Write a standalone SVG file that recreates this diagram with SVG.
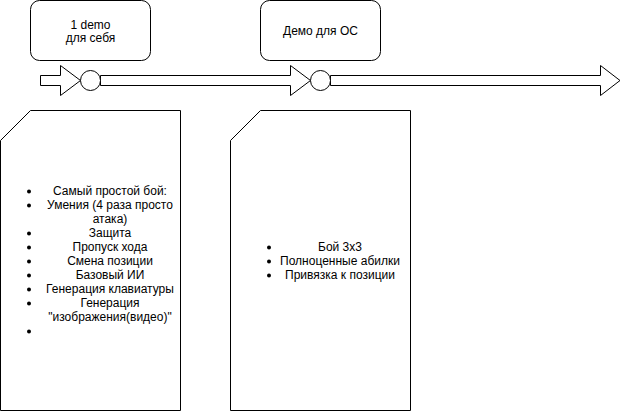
<svg xmlns="http://www.w3.org/2000/svg" width="621" height="411" viewBox="0 0 621 411">
<style>
.shape{fill:#ffffff;stroke:#000000;stroke-width:1}
.t{font-family:"Liberation Sans",Arial,Helvetica,sans-serif;font-size:12px;fill:#000000;text-anchor:middle}
.b{fill:#000000}
</style>
<rect width="621" height="411" fill="#ffffff"/>
<g id="connectors">
<polygon class="shape" points="40.5,75.5 60.5,75.5 60.5,65.5 80.5,80.5 60.5,95.5 60.5,85.5 40.5,85.5"/>
<polygon class="shape" points="100.5,75.5 290.5,75.5 290.5,65.5 310.5,80.5 290.5,95.5 290.5,85.5 100.5,85.5"/>
<polygon class="shape" points="330.5,75.5 600.5,75.5 600.5,65.5 620,80.5 600.5,95.5 600.5,85.5 330.5,85.5"/>
</g>
<g id="milestone1"><circle class="shape" cx="90.5" cy="80.5" r="10"/></g>
<g id="milestone2"><circle class="shape" cx="320.5" cy="80.5" r="10"/></g>
<g id="demo1">
<rect class="shape" x="30.5" y="0.5" width="120" height="60" rx="9" ry="9"/>
<text class="t" x="90.5" y="28.5">1 demo</text>
<text class="t" x="90.5" y="41.5">для себя</text>
</g>
<g id="demo2">
<rect class="shape" x="260.5" y="0.5" width="120" height="60" rx="9" ry="9"/>
<text class="t" x="320.5" y="34.5">Демо для ОС</text>
</g>
<g id="card1">
<path class="shape" d="M30.5,110.5 H180.5 V410.5 H0.5 V140.5 Z"/>
<circle class="b" cx="29" cy="191.5" r="2"/>
<circle class="b" cx="29" cy="205.5" r="2"/>
<circle class="b" cx="29" cy="233.5" r="2"/>
<circle class="b" cx="29" cy="247.5" r="2"/>
<circle class="b" cx="29" cy="261.5" r="2"/>
<circle class="b" cx="29" cy="275.5" r="2"/>
<circle class="b" cx="29" cy="289.5" r="2"/>
<circle class="b" cx="29" cy="303.5" r="2"/>
<circle class="b" cx="29" cy="331.5" r="2"/>
<text class="t" x="110" y="195">Самый простой бой:</text>
<text class="t" x="110" y="209">Умения (4 раза просто</text>
<text class="t" x="110" y="223">атака)</text>
<text class="t" x="110" y="237">Защита</text>
<text class="t" x="110" y="251">Пропуск хода</text>
<text class="t" x="110" y="265">Смена позиции</text>
<text class="t" x="110" y="279">Базовый ИИ</text>
<text class="t" x="110" y="293">Генерация клавиатуры</text>
<text class="t" x="110" y="307">Генерация</text>
<text class="t" x="110" y="321">"изображения(видео)"</text>
</g>
<g id="card2">
<path class="shape" d="M260.5,110.5 H410.5 V410.5 H230.5 V140.5 Z"/>
<circle class="b" cx="269" cy="247.5" r="2"/>
<circle class="b" cx="269" cy="261.5" r="2"/>
<circle class="b" cx="269" cy="275.5" r="2"/>
<text class="t" x="340" y="251">Бой 3x3</text>
<text class="t" x="340" y="265">Полноценные абилки</text>
<text class="t" x="340" y="279">Привязка к позиции</text>
</g>
</svg>
